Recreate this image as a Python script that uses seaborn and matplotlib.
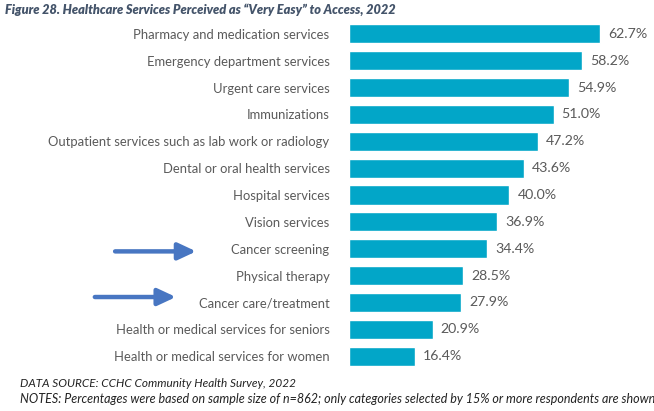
import matplotlib
matplotlib.use("Agg")
import matplotlib.pyplot as plt
import matplotlib.transforms as mtransforms
import seaborn as sns
import pandas as pd

services = [
    "Pharmacy and medication services",
    "Emergency department services",
    "Urgent care services",
    "Immunizations",
    "Outpatient services such as lab work or radiology",
    "Dental or oral health services",
    "Hospital services",
    "Vision services",
    "Cancer screening",
    "Physical therapy",
    "Cancer care/treatment",
    "Health or medical services for seniors",
    "Health or medical services for women",
]
pct_very_easy = [62.7, 58.2, 54.9, 51.0, 47.2, 43.6, 40.0, 36.9, 34.4, 28.5, 27.9, 20.9, 16.4]
highlighted = ["Cancer screening", "Cancer care/treatment"]

title = "Figure 28. Healthcare Services Perceived as \u201cVery Easy\u201d to Access, 2022"
source_note = "DATA SOURCE: CCHC Community Health Survey, 2022"
sample_note = ("NOTES: Percentages were based on sample size of n=862; only categories "
               "selected by 15% or more respondents are shown")

df = pd.DataFrame({"service": services, "pct": pct_very_easy})

sns.set_theme(style="white")
plt.rcParams["font.family"] = ["Lato", "DejaVu Sans"]

fig = plt.figure(figsize=(6.54, 4.11), dpi=100)
ax = fig.add_axes([0.5336, 0.101, 0.46, 0.849])

bar_color = "#02A6C8"
sns.barplot(data=df, x="pct", y="service", color=bar_color, saturation=1,
            width=0.71, ax=ax, order=services)

ax.set_xlim(0, 75)
ax.set_xlabel("")
ax.set_ylabel("")
ax.set_xticks([])
for s in ax.spines.values():
    s.set_visible(False)
ax.tick_params(axis="y", length=0, pad=14, labelsize=9.4, labelcolor="#5a5a5a")

for i, v in enumerate(pct_very_easy):
    ax.text(v + 2.0, i, f"{v:.1f}%", va="center", ha="left",
            fontsize=10.2, color="#5a5a5a")

# arrows pointing at the highlighted categories
trans = mtransforms.blended_transform_factory(fig.transFigure, ax.transData)
arrow_x = {"Cancer screening": (0.176, 0.300, 0.1),
           "Cancer care/treatment": (0.145, 0.269, -0.2)}
for name in highlighted:
    idx = services.index(name)
    x0, x1, dy = arrow_x[name]
    ax.annotate("", xy=(x1, idx + dy), xytext=(x0, idx + dy),
                xycoords=trans, textcoords=trans, annotation_clip=False,
                arrowprops=dict(arrowstyle="-|>,head_length=0.9,head_width=0.42",
                                lw=3.2, color="#4876C2", shrinkA=0, shrinkB=0))

fig.text(0.007, 0.993, title, fontsize=9.2, fontstyle="italic", fontweight="heavy",
         color="#44546A", va="top", ha="left")
fig.text(0.030, 0.067, source_note, fontsize=8.5, fontstyle="italic",
         color="#222222", va="center", ha="left")
fig.text(0.030, 0.030, sample_note, fontsize=9.0, fontstyle="italic",
         color="#222222", va="center", ha="left")

fig.savefig("out.png", dpi=100)
